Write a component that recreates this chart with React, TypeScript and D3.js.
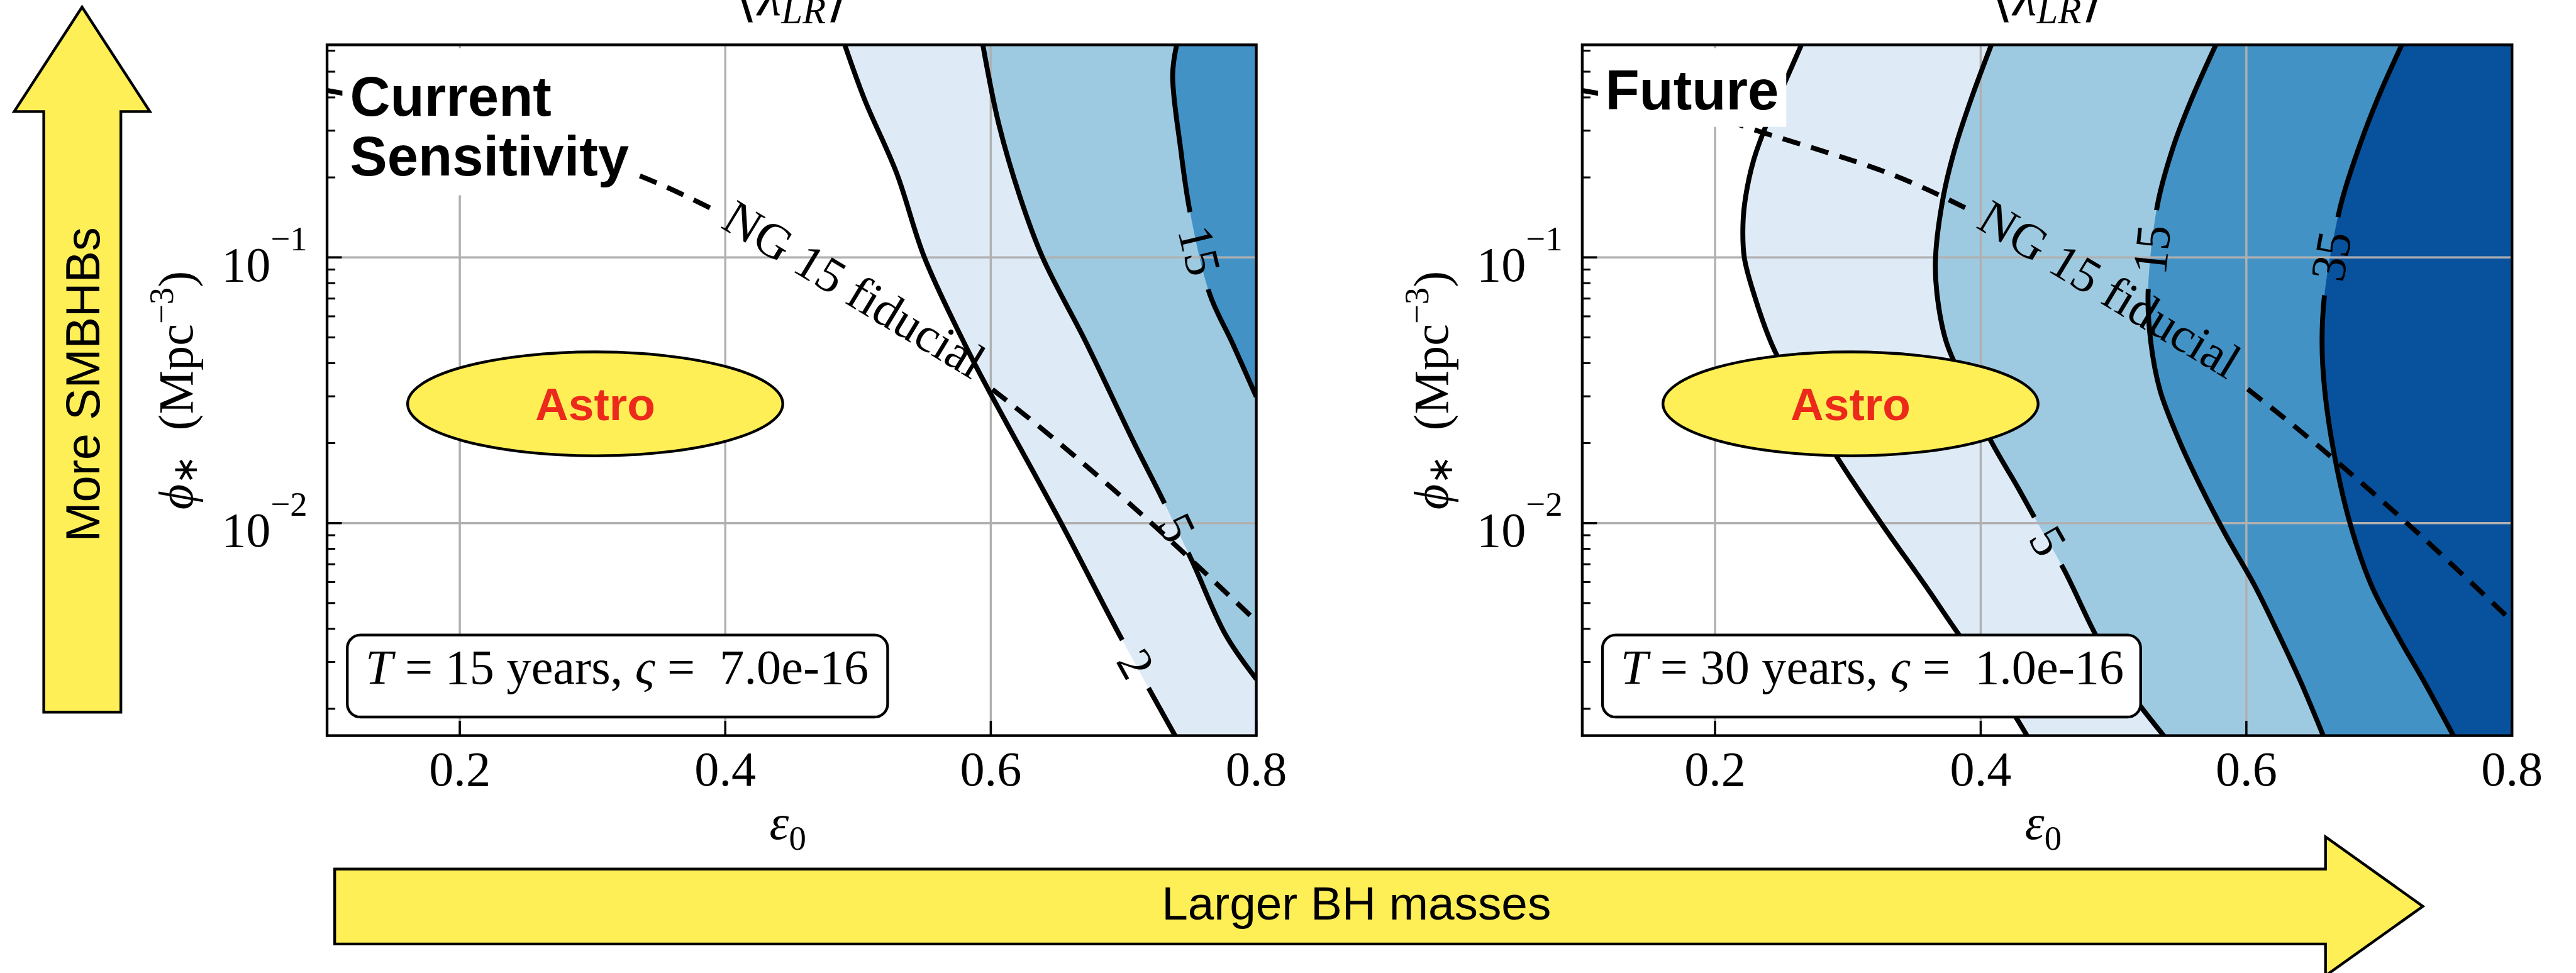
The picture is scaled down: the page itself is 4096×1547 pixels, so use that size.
import * as d3 from "d3";

// Reference canvas is 4710x1779; the svg viewBox keeps those units and the
// browser scales everything to the 4096x1547 window.
const W = 4710;
const H = 1779;
const OUT_W = 4096;
const OUT_H = 1547;

const SERIF = "'Liberation Serif', 'Times New Roman', serif";
const SANS = "'Liberation Sans', Arial, Helvetica, sans-serif";
const YELLOW = "#ffef57";
const GRID = "#b0b0b0";

const EPS_DOMAIN: [number, number] = [0.1, 0.8];
const PHI_DOMAIN: [number, number] = [10 ** -2.8, 10 ** -0.2];
const EPS_TICKS = [0.2, 0.4, 0.6, 0.8];
const EPS_TICK_LABELS = ["0.2", "0.4", "0.6", "0.8"];
const PHI_MAJOR = [0.01, 0.1];
const PHI_MAJOR_EXP = ["\u22122", "\u22121"];
const PHI_MINOR = [
  0.002, 0.003, 0.004, 0.005, 0.006, 0.007, 0.008, 0.009, 0.02, 0.03, 0.04, 0.05, 0.06, 0.07,
  0.08, 0.09, 0.2, 0.3, 0.4, 0.5, 0.6,
];

const LEVEL_COLORS: Record<number, string> = {
  2: "#deebf7",
  5: "#9ecae1",
  15: "#4292c6",
  35: "#08519c",
};

// Current sensitivity (T = 15 yr) contours of <lambda_LR>.
const CUR_L2_EPS = [0.49, 0.505, 0.529, 0.55, 0.58, 0.597, 0.653, 0.697, 0.739];
const CUR_L2_PHI = [0.631, 0.392, 0.208, 0.1, 0.0476, 0.0326, 0.01, 0.00379, 0.00158];
const CUR_L5_EPS = [0.594, 0.606, 0.622, 0.639, 0.672, 0.707, 0.729, 0.752, 0.777, 0.8];
const CUR_L5_PHI = [0.631, 0.318, 0.169, 0.1, 0.0476, 0.0205, 0.0124, 0.00713, 0.00379, 0.00259];
const CUR_L15_EPS = [0.74, 0.737, 0.743, 0.75, 0.765, 0.782, 0.8];
const CUR_L15_PHI = [0.631, 0.484, 0.257, 0.149, 0.0726, 0.0476, 0.0299];
const CUR_LABEL_LEVELS = [2, 5, 15];
const CUR_LABEL_EPS = [0.709, 0.74, 0.757];
const CUR_LABEL_PHI = [0.00295, 0.00959, 0.106];

// Future (T = 30 yr) contours.
const FUT_L2_EPS = [0.265, 0.254, 0.238, 0.229, 0.223, 0.221, 0.222, 0.229, 0.245, 0.29, 0.325, 0.358, 0.383, 0.41, 0.435];
const FUT_L2_PHI = [0.631, 0.473, 0.31, 0.232, 0.169, 0.133, 0.1, 0.0735, 0.0444, 0.0183, 0.01, 0.00585, 0.00384, 0.00251, 0.00158];
const FUT_L5_EPS = [0.408, 0.393, 0.381, 0.372, 0.366, 0.367, 0.374, 0.39, 0.407, 0.428, 0.44, 0.463, 0.486, 0.507, 0.538];
const FUT_L5_PHI = [0.631, 0.397, 0.261, 0.171, 0.1, 0.0735, 0.0482, 0.0316, 0.0207, 0.0136, 0.0106, 0.00664, 0.00384, 0.00252, 0.00158];
const FUT_L15_EPS = [0.577, 0.559, 0.545, 0.533, 0.526, 0.528, 0.535, 0.549, 0.566, 0.585, 0.606, 0.624, 0.641, 0.658];
const FUT_L15_PHI = [0.631, 0.397, 0.261, 0.157, 0.0735, 0.0482, 0.0316, 0.0207, 0.0136, 0.00893, 0.00585, 0.00384, 0.00252, 0.00158];
const FUT_L35_EPS = [0.717, 0.699, 0.685, 0.671, 0.659, 0.657, 0.659, 0.666, 0.678, 0.694, 0.713, 0.734, 0.756];
const FUT_L35_PHI = [0.631, 0.397, 0.261, 0.157, 0.0735, 0.0482, 0.0316, 0.0183, 0.01, 0.00585, 0.00384, 0.00252, 0.00158];
const FUT_LABEL_LEVELS = [5, 15, 35];
const FUT_LABEL_EPS = [0.4505, 0.529, 0.664];
const FUT_LABEL_PHI = [0.00855, 0.107, 0.101];

// NANOGrav 15-yr fiducial track (same in both panels).
const NG15_EPS = [0.1, 0.2, 0.227, 0.33, 0.388, 0.45, 0.5, 0.55, 0.597, 0.646, 0.72, 0.8];
const NG15_PHI = [0.425, 0.339, 0.305, 0.208, 0.154, 0.105, 0.0741, 0.0501, 0.0331, 0.0211, 0.0101, 0.00427];
const NG15_LABEL = "NG 15 fiducial";
const NG15_LABEL_EPS = 0.497;
const NG15_LABEL_PHI = 0.0757;

const ASTRO_EPS = 0.302;
const ASTRO_PHI = 0.0281;

// Layout, in reference pixels.
const AX_Y0 = 82;
const AX_Y1 = 1345;
const FS_TICK = 90;
const FS_INLINE = 90;
const LINE_W = 9;

type Pt = [number, number];

interface ContourSpec {
  level: number;
  eps: number[];
  phi: number[];
}

interface PanelSpec {
  key: string;
  x0: number;
  x1: number;
  contours: ContourSpec[];
  labelLevels: number[];
  labelEps: number[];
  labelPhi: number[];
  heading: string[];
  headingBaselines: number[];
  headingBox: { dx: number; w: number; h: number };
  years: string;
  sigma: string;
  noteW: number;
}

const PANELS: PanelSpec[] = [
  {
    key: "cur",
    x0: 598,
    x1: 2297,
    contours: [
      { level: 2, eps: CUR_L2_EPS, phi: CUR_L2_PHI },
      { level: 5, eps: CUR_L5_EPS, phi: CUR_L5_PHI },
      { level: 15, eps: CUR_L15_EPS, phi: CUR_L15_PHI },
    ],
    labelLevels: CUR_LABEL_LEVELS,
    labelEps: CUR_LABEL_EPS,
    labelPhi: CUR_LABEL_PHI,
    heading: ["Current", "Sensitivity"],
    headingBaselines: [212, 321],
    headingBox: { dx: 28, w: 529, h: 269 },
    years: "15",
    sigma: "7.0e-16",
    noteW: 988,
  },
  {
    key: "fut",
    x0: 2893,
    x1: 4593,
    contours: [
      { level: 2, eps: FUT_L2_EPS, phi: FUT_L2_PHI },
      { level: 5, eps: FUT_L5_EPS, phi: FUT_L5_PHI },
      { level: 15, eps: FUT_L15_EPS, phi: FUT_L15_PHI },
      { level: 35, eps: FUT_L35_EPS, phi: FUT_L35_PHI },
    ],
    labelLevels: FUT_LABEL_LEVELS,
    labelEps: FUT_LABEL_EPS,
    labelPhi: FUT_LABEL_PHI,
    heading: ["Future"],
    headingBaselines: [200],
    headingBox: { dx: 29, w: 344, h: 144 },
    years: "30",
    sigma: "1.0e-16",
    noteW: 984,
  },
];

const V_ARROW: Pt[] = [[150, 13], [274, 204], [221, 204], [221, 1302], [80, 1302], [80, 204], [26, 204]];
const H_ARROW: Pt[] = [[612, 1589], [4252, 1589], [4252, 1530], [4430, 1657], [4252, 1784], [4252, 1726], [612, 1726]];

/** Tangent angle (deg, kept upright) of the polyline segment nearest to (px, py). */
function tangentAngle(pts: Pt[], px: number, py: number): number {
  let best = 0;
  let bestD = Infinity;
  for (let i = 0; i < pts.length - 1; i++) {
    const [ax, ay] = pts[i];
    const [bx, by] = pts[i + 1];
    const dx = bx - ax;
    const dy = by - ay;
    const t = Math.max(0, Math.min(1, ((px - ax) * dx + (py - ay) * dy) / (dx * dx + dy * dy)));
    const d = (ax + t * dx - px) ** 2 + (ay + t * dy - py) ** 2;
    if (d < bestD) {
      bestD = d;
      best = i;
    }
  }
  const [ax, ay] = pts[best];
  const [bx, by] = pts[best + 1];
  let a = (Math.atan2(by - ay, bx - ax) * 180) / Math.PI;
  if (a > 90) a -= 180;
  if (a <= -90) a += 180;
  return a;
}

function Panel({ p }: { p: PanelSpec }) {
  const x = d3.scaleLinear().domain(EPS_DOMAIN).range([p.x0, p.x1]);
  const y = d3.scaleLog().domain(PHI_DOMAIN).range([AX_Y1, AX_Y0]);
  const toPx = (e: number[], f: number[]): Pt[] => e.map((v, i) => [x(v), y(f[i])]);
  const line = d3.line<Pt>().curve(d3.curveCatmullRom.alpha(0.5));
  const far = 80;
  const clipId = `clip-${p.key}`;
  const cx = (p.x0 + p.x1) / 2;

  const contours = p.contours.map((c) => {
    const pts = toPx(c.eps, c.phi);
    const li = p.labelLevels.indexOf(c.level);
    const label =
      li >= 0
        ? {
            x: x(p.labelEps[li]),
            y: y(p.labelPhi[li]),
            angle: 0,
            text: String(c.level),
          }
        : null;
    if (label) label.angle = tangentAngle(pts, label.x, label.y);
    return { ...c, pts, label };
  });

  const ngPts = toPx(NG15_EPS, NG15_PHI);
  const ngX = x(NG15_LABEL_EPS);
  const ngY = y(NG15_LABEL_PHI);
  const ngAngle = tangentAngle(ngPts, ngX, ngY);

  const gapRect = (id: string, lx: number, ly: number, ang: number, gw: number, gh: number) => (
    <mask id={id} key={id} maskUnits="userSpaceOnUse" x={0} y={0} width={W} height={H}>
      <rect x={0} y={0} width={W} height={H} fill="#fff" />
      <rect
        x={-gw / 2}
        y={-gh / 2}
        width={gw}
        height={gh}
        fill="#000"
        transform={`translate(${lx},${ly}) rotate(${ang})`}
      />
    </mask>
  );

  return (
    <g>
      <defs>
        <clipPath id={clipId}>
          <rect x={p.x0} y={AX_Y0} width={p.x1 - p.x0} height={AX_Y1 - AX_Y0} />
        </clipPath>
        {contours.map((c) =>
          c.label
            ? gapRect(`m-${p.key}-${c.level}`, c.label.x, c.label.y, c.label.angle, c.label.text.length * 45 + 55, 70)
            : null,
        )}
        {gapRect(`m-${p.key}-ng`, ngX, ngY, ngAngle, 594, 130)}
      </defs>

      <g clipPath={`url(#${clipId})`}>
        {contours.map((c) => {
          const first = c.pts[0];
          const d =
            `${line(c.pts)}L${p.x1 + far},${AX_Y1 + far}` +
            `L${p.x1 + far},${AX_Y0 - far}L${first[0]},${AX_Y0 - far}Z`;
          return <path key={`f${c.level}`} d={d} fill={LEVEL_COLORS[c.level]} />;
        })}
        {EPS_TICKS.map((t) => (
          <line key={`gx${t}`} x1={x(t)} x2={x(t)} y1={AX_Y0} y2={AX_Y1} stroke={GRID} strokeWidth={4} />
        ))}
        {PHI_MAJOR.map((t) => (
          <line key={`gy${t}`} x1={p.x0} x2={p.x1} y1={y(t)} y2={y(t)} stroke={GRID} strokeWidth={4} />
        ))}
        {contours.map((c) => (
          <path
            key={`l${c.level}`}
            d={line(c.pts) ?? ""}
            fill="none"
            stroke="#000"
            strokeWidth={LINE_W}
            mask={c.label ? `url(#m-${p.key}-${c.level})` : undefined}
          />
        ))}
        <path
          d={line(ngPts) ?? ""}
          fill="none"
          stroke="#000"
          strokeWidth={LINE_W}
          strokeDasharray="33 21"
          mask={`url(#m-${p.key}-ng)`}
        />
      </g>

      {contours.map((c) =>
        c.label ? (
          <text
            key={`t${c.level}`}
            transform={`translate(${c.label.x},${c.label.y}) rotate(${c.label.angle})`}
            textAnchor="middle"
            dy="0.33em"
            fontFamily={SERIF}
            fontSize={FS_INLINE}
          >
            {c.label.text}
          </text>
        ) : null,
      )}
      <text
        transform={`translate(${ngX},${ngY}) rotate(${ngAngle})`}
        textAnchor="middle"
        dy="0.33em"
        fontFamily={SERIF}
        fontSize={FS_INLINE}
      >
        {NG15_LABEL}
      </text>

      {/* spines and inward ticks */}
      <rect x={p.x0} y={AX_Y0} width={p.x1 - p.x0} height={AX_Y1 - AX_Y0} fill="none" stroke="#000" strokeWidth={5} />
      {EPS_TICKS.map((t) => (
        <line key={`tx${t}`} x1={x(t)} x2={x(t)} y1={AX_Y1} y2={AX_Y1 - 27} stroke="#000" strokeWidth={4} />
      ))}
      {PHI_MAJOR.map((t) => (
        <line key={`ty${t}`} x1={p.x0} x2={p.x0 + 27} y1={y(t)} y2={y(t)} stroke="#000" strokeWidth={4} />
      ))}
      {PHI_MINOR.map((t) => (
        <line key={`tm${t}`} x1={p.x0} x2={p.x0 + 15} y1={y(t)} y2={y(t)} stroke="#000" strokeWidth={3.5} />
      ))}

      {/* tick labels */}
      {EPS_TICKS.map((t, i) => (
        <text key={`lx${t}`} x={x(t)} y={1436} textAnchor="middle" fontFamily={SERIF} fontSize={FS_TICK}>
          {EPS_TICK_LABELS[i]}
        </text>
      ))}
      {PHI_MAJOR.map((t, i) => (
        <text key={`ly${t}`} x={p.x0 - 36} y={y(t) + 43} textAnchor="end" fontFamily={SERIF} fontSize={FS_TICK}>
          10
          <tspan dy={-56} fontSize={63}>
            {PHI_MAJOR_EXP[i]}
          </tspan>
        </text>
      ))}

      {/* axis labels and the (cropped) title */}
      <text x={cx - 7} y={1534} textAnchor="middle" fontFamily={SERIF} fontSize={FS_TICK}>
        <tspan fontStyle="italic">ε</tspan>
        <tspan dy={20} fontSize={63}>
          0
        </tspan>
      </text>
      <text
        transform={`translate(${p.x0 - 246},${(AX_Y0 + AX_Y1) / 2}) rotate(-90)`}
        textAnchor="middle"
        fontFamily={SERIF}
        fontSize={FS_TICK}
        style={{ whiteSpace: "pre" }}
      >
        <tspan fontStyle="italic">ϕ</tspan>
        <tspan dy={8} fontSize={63}>
          ∗
        </tspan>
        <tspan dy={-8}>{"  (Mpc"}</tspan>
        <tspan dy={-36} fontSize={63}>
          −3
        </tspan>
        <tspan dy={36}>)</tspan>
      </text>
      <text x={cx} y={28} textAnchor="middle" fontFamily={SERIF} fontSize={100}>
        <tspan fontFamily="'DejaVu Sans', sans-serif" fontWeight={300}>
          ⟨
        </tspan>
        <tspan fontStyle="italic">λ</tspan>
        <tspan fontStyle="italic" fontSize={70} dy={15}>
          LR
        </tspan>
        <tspan fontFamily="'DejaVu Sans', sans-serif" dy={-15}>
          ⟩
        </tspan>
      </text>

      {/* heading with white background */}
      <rect x={p.x0 + p.headingBox.dx} y={88} width={p.headingBox.w} height={p.headingBox.h} fill="#fff" />
      {p.heading.map((s, i) => (
        <text
          key={s}
          x={p.x0 + 42}
          y={p.headingBaselines[i]}
          fontFamily={SANS}
          fontWeight={700}
          fontSize={102}
          fill="#000"
        >
          {s}
        </text>
      ))}

      {/* T / sigma annotation */}
      <rect
        x={p.x0 + 37}
        y={1161}
        width={p.noteW}
        height={150}
        rx={24}
        fill="#fff"
        stroke="#000"
        strokeWidth={5}
      />
      <text x={p.x0 + 70} y={1250} fontFamily={SERIF} fontSize={90} style={{ whiteSpace: "pre" }}>
        <tspan fontStyle="italic">T</tspan>
        {` = ${p.years} years, `}
        <tspan fontStyle="italic">ς</tspan>
        {` =  ${p.sigma}`}
      </text>

      {/* astrophysical region */}
      <ellipse cx={x(ASTRO_EPS)} cy={y(ASTRO_PHI)} rx={343} ry={95} fill={YELLOW} stroke="#000" strokeWidth={5} />
      <text
        x={x(ASTRO_EPS)}
        y={y(ASTRO_PHI) + 30}
        textAnchor="middle"
        fontFamily={SANS}
        fontWeight={700}
        fontSize={84}
        fill="#ec2a1c"
      >
        Astro
      </text>
    </g>
  );
}

function Arrows() {
  const poly = d3.line<Pt>();
  return (
    <g>
      <path d={`${poly(V_ARROW)}Z`} fill={YELLOW} stroke="#000" strokeWidth={5} strokeLinejoin="miter" />
      <text transform="translate(182,703) rotate(-90)" textAnchor="middle" fontFamily={SANS} fontSize={87}>
        More SMBHBs
      </text>
      <path d={`${poly(H_ARROW)}Z`} fill={YELLOW} stroke="#000" strokeWidth={5} strokeLinejoin="miter" />
      <text x={2480} y={1681} textAnchor="middle" fontFamily={SANS} fontSize={86}>
        Larger BH masses
      </text>
    </g>
  );
}

export default function App() {
  return (
    <div
      style={{
        position: "fixed",
        left: 0,
        top: 0,
        width: OUT_W,
        height: OUT_H,
        background: "#fff",
        overflow: "hidden",
      }}
    >
      <svg
        width={OUT_W}
        height={OUT_H}
        viewBox={`0 0 ${W} ${H}`}
        preserveAspectRatio="none"
        style={{ display: "block" }}
        role="img"
        aria-label="Detection statistic contours in the epsilon_0 / phi_* plane, current and future sensitivity"
      >
        <rect width={W} height={H} fill="#fff" />
        {PANELS.map((p) => (
          <Panel key={p.key} p={p} />
        ))}
        <Arrows />
      </svg>
    </div>
  );
}
